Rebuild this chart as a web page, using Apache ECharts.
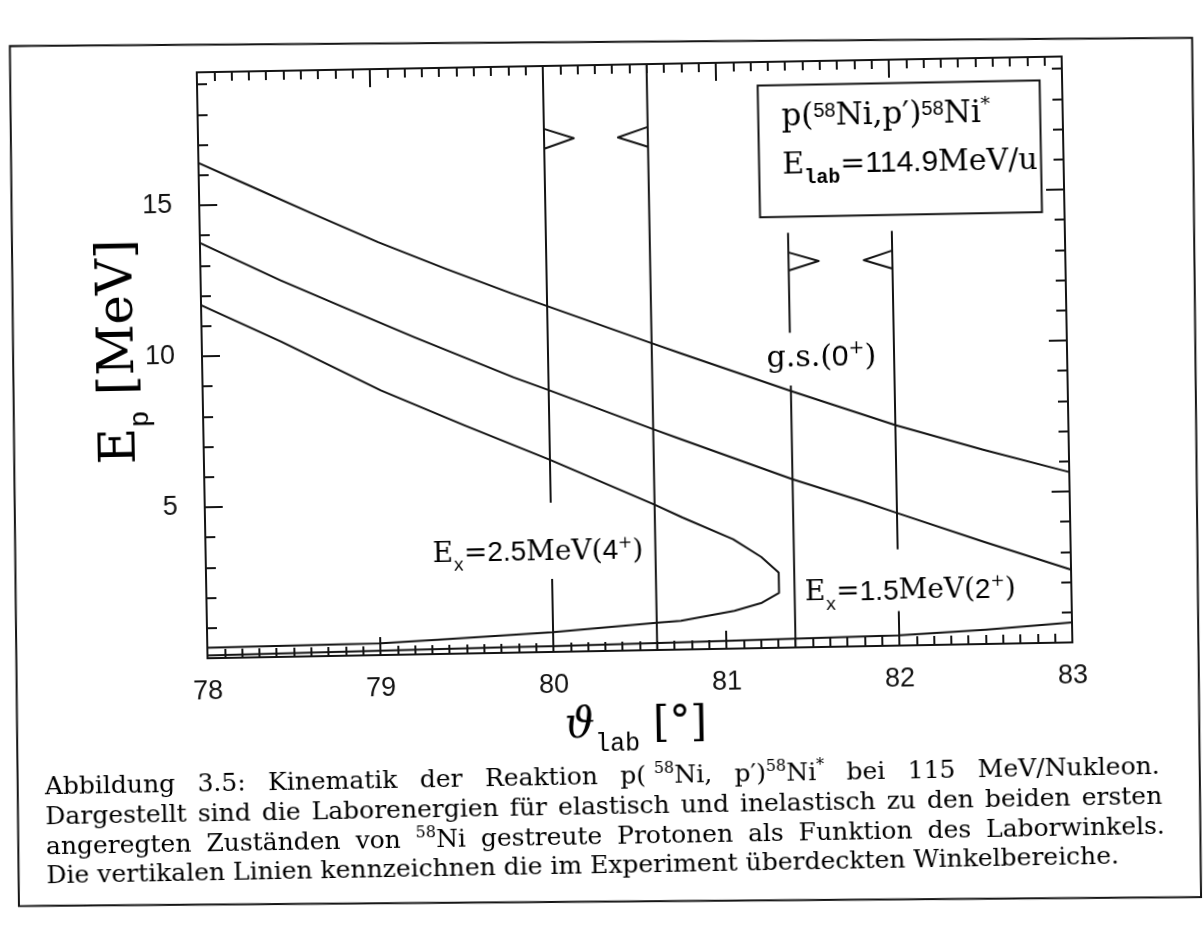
<!DOCTYPE html>
<html lang="de">
<head>
<meta charset="utf-8">
<title>Kinematik der Reaktion p(58Ni,p')58Ni*</title>
<script src="https://cdn.jsdelivr.net/npm/echarts@6.0.0/dist/echarts.min.js"></script>
<style>
  html, body { margin: 0; padding: 0; background: #fff; }
  body { width: 1203px; height: 925px; overflow: hidden; position: relative; }
  #sheet {
    position: absolute; left: 0; top: 0; width: 1203px; height: 925px;
    transform: rotate(-1.05deg); transform-origin: 601.5px 462.5px;
  }
</style>
</head>
<body>
<div id="sheet"></div>
<script>
// ---------------------------------------------------------------
// Kinematics of p(58Ni,p')58Ni* at 114.9 MeV/u
// points are [theta_lab (deg), E_p (MeV)]
// ---------------------------------------------------------------
const thetaRange = [78, 83];
const energyRange = [0, 19.4];
const energyTickLabels = [5, 10, 15];

// elastic scattering, ground state 0+
const groundState = [
  [78.0, 16.40], [78.28, 15.65], [78.65, 14.66], [79.03, 13.67], [79.42, 12.74],
  [79.80, 11.88], [80.0, 11.45], [80.6, 10.16], [80.77, 9.80], [81.4, 8.49],
  [82.0, 7.30], [82.5, 6.44], [83.0, 5.64]
];

// first excited state 2+ (1.5 MeV), upper and lower kinematic branch
const state2Upper = [
  [78.0, 13.75], [78.46, 12.47], [78.84, 11.49], [79.23, 10.50], [79.80, 9.11],
  [80.0, 8.67], [80.6, 7.31], [80.76, 6.96], [81.4, 5.57], [81.8, 4.80],
  [82.0, 4.39], [82.49, 3.40], [83.0, 2.41]
];
const state2Lower = [
  [78.0, 0.09], [79.7, 0.18], [80.0, 0.19], [80.74, 0.24], [82.0, 0.34],
  [82.5, 0.47], [83.0, 0.66]
];

// second excited state 4+ (2.5 MeV), both branches joined at the maximum angle
const state4Branches = [
  [78.0, 11.69], [78.46, 10.43], [79.03, 8.76], [79.51, 7.55], [80.0, 6.36],
  [80.6, 4.81], [80.76, 4.37], [81.05, 3.62], [81.21, 3.02], [81.31, 2.49],
  [81.31, 1.82], [81.21, 1.50], [81.05, 1.25], [80.74, 0.95], [80.6, 0.90],
  [80.0, 0.65], [79.33, 0.47], [79.0, 0.39], [78.0, 0.35]
];

// angular ranges covered in the experiment: limit lines (with gaps for the labels)
const windowLines = [
  [[80.0, 19.4], [80.0, 4.94]], [[80.0, 2.42], [80.0, 0]],
  [[80.6, 19.4], [80.6, 0]],
  [[81.4, 13.73], [81.4, 10.42]], [[81.4, 8.67], [81.4, 0]],
  [[82.0, 13.73], [82.0, 3.19]], [[82.0, 1.14], [82.0, 0]]
];
// open arrow heads pointing into each covered range
const windowArrows = [
  [[80.0, 17.32], [80.172, 16.99], [80.0, 16.66]],
  [[80.6, 17.32], [80.427, 16.99], [80.6, 16.66]],
  [[81.4, 13.08], [81.574, 12.78], [81.4, 12.48]],
  [[82.0, 13.08], [81.835, 12.78], [82.0, 12.48]]
];

// ---------------------------------------------------------------
const INK = '#141414';
const SERIF = "'DejaVu Serif', 'Liberation Serif', serif";
const SANS = "'Liberation Sans', Arial, sans-serif";
const MONO = "'Liberation Mono', 'DejaVu Sans Mono', monospace";

const chart = echarts.init(document.getElementById('sheet'), null,
  { renderer: 'canvas', width: 1203, height: 925 });

function xAxis(position, showLabels) {
  return {
    type: 'value', position, min: thetaRange[0], max: thetaRange[1], interval: 1,
    axisLine: { show: true, onZero: false, lineStyle: { color: INK, width: 2 } },
    axisTick: { show: true, inside: true, length: 18, lineStyle: { color: INK, width: 2 } },
    minorTick: { show: true, splitNumber: 10, length: 9, lineStyle: { color: INK, width: 2 } },
    splitLine: { show: false }, minorSplitLine: { show: false },
    axisLabel: { show: showLabels, margin: 20, fontSize: 27, fontFamily: SANS, color: INK }
  };
}
function yAxis(position, interval, tickLength, showLabels) {
  return {
    type: 'value', position, min: energyRange[0], max: energyRange[1], interval,
    axisLine: { show: true, onZero: false, lineStyle: { color: INK, width: 2 } },
    axisTick: { show: true, inside: true, length: tickLength, lineStyle: { color: INK, width: 2 } },
    minorTick: { show: false }, splitLine: { show: false },
    axisLabel: {
      show: showLabels, margin: 27, fontSize: 27, fontFamily: SANS, color: INK,
      formatter: v => (energyTickLabels.indexOf(v) >= 0 ? String(v) : '')
    }
  };
}
function curve(data) {
  return {
    type: 'line', data, xAxisIndex: 0, yAxisIndex: 0, symbol: 'none', silent: true,
    clip: true, z: 3, lineStyle: { color: INK, width: 2, join: 'round' }
  };
}

const series = [
  curve(groundState), curve(state2Upper), curve(state2Lower), curve(state4Branches)
];
windowLines.forEach(seg => series.push(curve(seg)));
windowArrows.forEach(tri => series.push(curve(tri)));

chart.setOption({
  animation: false,
  backgroundColor: '#fff',
  grid: { left: 204, top: 65, width: 865, height: 586, containLabel: false, outerBoundsMode: 'none' },
  xAxis: [xAxis('bottom', true), xAxis('top', false)],
  yAxis: [
    yAxis('left', 1, 10, false), yAxis('left', 5, 18, true),
    yAxis('right', 1, 10, false), yAxis('right', 5, 18, false)
  ],
  series
});

// ---------------------------------------------------------------
// text: rich styles with raised / lowered pieces
// ---------------------------------------------------------------
function shifted(family, size, F, L, up, extra) {
  // move a smaller piece so that its baseline sits `up` px above the main baseline
  const c = 0.35 * F - 0.35 * size - up;
  const pad = Math.abs(2 * c);
  return Object.assign({
    fontFamily: family, fontSize: size, lineHeight: L, color: INK,
    padding: c < 0 ? [0, 0, pad, 0] : [pad, 0, 0, 0]
  }, extra || {});
}
function richSet(F) {
  const L = Math.round(F * 1.6);
  return {
    r: { fontFamily: SERIF, fontSize: F, lineHeight: L, color: INK },
    n: { fontFamily: SANS, fontSize: F, lineHeight: L, color: INK },
    sp: shifted(SERIF, Math.round(F * 0.62), F, L, F * 0.42),
    nsp: shifted(SANS, Math.round(F * 0.66), F, L, F * 0.3),
    sb: shifted(MONO, Math.round(F * 0.66), F, L, -F * 0.3),
    sbb: shifted(MONO, Math.round(F * 0.66), F, L, -F * 0.3, { fontWeight: 'bold' })
  };
}

const at = p => chart.convertToPixel({ xAxisIndex: 0, yAxisIndex: 0 }, p);

function label(pos, text, F, align) {
  const p = at(pos);
  return {
    type: 'text', x: p[0], y: p[1], z: 20, silent: true,
    style: { text, rich: richSet(F), align: align || 'center', verticalAlign: 'middle' }
  };
}

const boxTL = at([81.24, 18.62]);
const boxBR = at([82.87, 14.26]);

// ---------------------------------------------------------------
// caption, set as a justified paragraph
// ---------------------------------------------------------------
const capF = 25;
const capRich = {
  c: { fontFamily: SERIF, fontSize: capF, lineHeight: 30, color: INK },
  s: shifted(SERIF, 16, capF, 30, 10)
};
const measureCtx = document.createElement('canvas').getContext('2d');
function richWidth(str, rich) {
  let w = 0;
  str.replace(/\{(\w+)\|([^}]*)\}/g, (m, key, txt) => {
    const st = rich[key];
    measureCtx.font = (st.fontStyle || 'normal') + ' ' + (st.fontWeight || 'normal') + ' ' +
      st.fontSize + 'px ' + st.fontFamily;
    w += measureCtx.measureText(txt).width;
    return m;
  });
  return w;
}
function captionText(x, y, text) {
  return { type: 'text', x, y, z: 20, silent: true,
    style: { text, rich: capRich, align: 'left', verticalAlign: 'middle' } };
}
function justifiedLine(words, y, x0, x1) {
  const widths = words.map(w => richWidth(w, capRich));
  const total = widths.reduce((a, b) => a + b, 0);
  const gap = (x1 - x0 - total) / (words.length - 1);
  let x = x0;
  return words.map((w, i) => {
    const el = captionText(x, y, w);
    x += widths[i] + gap;
    return el;
  });
}
const capLeft = 39, capRight = 1156;
const captionLines = [].concat(
  justifiedLine(['{c|Abbildung}', '{c|3.5:}', '{c|Kinematik}', '{c|der}', '{c|Reaktion}',
    '{c|p( }{s|58}{c|Ni,}', '{c|p′)}{s|58}{c|Ni}{s|*}', '{c|bei}', '{c|115}', '{c|MeV/Nukleon.}'],
    777, capLeft, capRight - 2),
  justifiedLine(['{c|Dargestellt}', '{c|sind}', '{c|die}', '{c|Laborenergien}', '{c|für}',
    '{c|elastisch}', '{c|und}', '{c|inelastisch}', '{c|zu}', '{c|den}', '{c|beiden}', '{c|ersten}'],
    807, capLeft, capRight),
  justifiedLine(['{c|angeregten}', '{c|Zuständen}', '{c|von}', '{s|58}{c|Ni}', '{c|gestreute}',
    '{c|Protonen}', '{c|als}', '{c|Funktion}', '{c|des}', '{c|Laborwinkels.}'],
    837, capLeft, capRight + 2),
  [captionText(capLeft, 866, '{c|Die vertikalen Linien kennzeichnen die im Experiment überdeckten Winkelbereiche.}')]
);

const axisTitleRich = {
  r: { fontFamily: SERIF, fontSize: 50, lineHeight: 70, color: INK },
  sb: shifted(MONO, 28, 50, 70, -12)
};
const thetaTitleRich = {
  th: { fontFamily: SERIF, fontSize: 42, fontStyle: 'italic', lineHeight: 60, color: INK },
  r: { fontFamily: SERIF, fontSize: 42, lineHeight: 60, color: INK },
  sb: shifted(MONO, 25, 42, 60, -12)
};

chart.setOption({
  graphic: [
    // frame around figure and caption
    { type: 'polygon', z: 1, silent: true,
      shape: { points: [[17.6, 35.2], [1199.8, 48.8], [1193, 908], [10.9, 895.3]] },
      style: { fill: null, stroke: INK, lineWidth: 2 } },
    // reaction box
    { type: 'rect', z: 15, silent: true,
      shape: { x: boxTL[0], y: boxTL[1], width: boxBR[0] - boxTL[0], height: boxBR[1] - boxTL[1] },
      style: { fill: '#fff', stroke: INK, lineWidth: 2 } },
    label([81.374, 17.54], '{r|p(}{nsp|58}{r|Ni,p′)}{nsp|58}{r|Ni}{sp|*}', 31, 'left'),
    label([81.374, 15.95], '{r|E}{sbb|lab}{r|=}{n|114.9}{r|MeV/u}', 30, 'left'),
    // state labels
    label([81.58, 9.57], '{r|g.s.(}{n|0}{sp|+}{r|)}', 30),
    label([80.53, 3.30], '{r|E}{sb|x}{r|=}{n|2.5}{r|MeV(}{n|4}{sp|+}{r|)}', 28, 'right'),
    label([81.46, 1.79], '{r|E}{sb|x}{r|=}{n|1.5}{r|MeV(}{n|2}{sp|+}{r|)}', 28, 'left'),
    // axis titles
    { type: 'text', x: 122, y: 343, rotation: Math.PI / 2, z: 20, silent: true,
      style: { text: '{r|E}{sb|p}{r| [MeV]}', rich: axisTitleRich, align: 'center', verticalAlign: 'middle' } },
    { type: 'text', x: 631, y: 726, z: 20, silent: true,
      style: { text: '{th|ϑ}{sb|lab}{r| [°]}', rich: thetaTitleRich, align: 'center', verticalAlign: 'middle' } }
  ].concat(captionLines)
});
</script>
</body>
</html>
